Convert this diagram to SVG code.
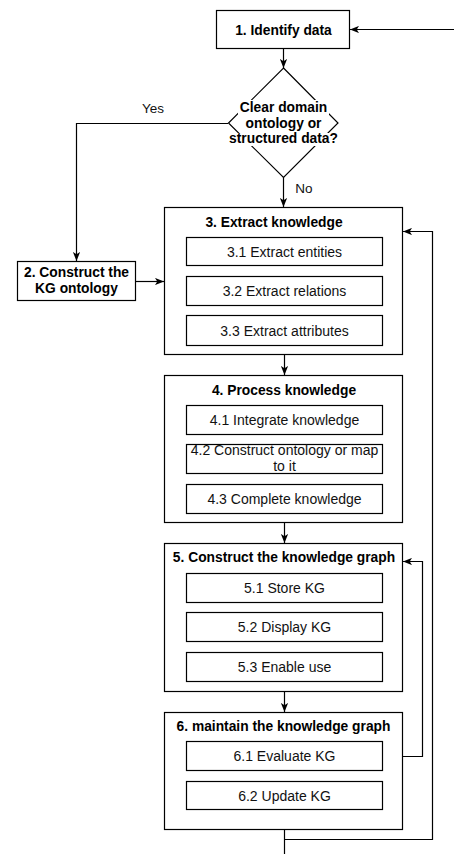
<svg xmlns="http://www.w3.org/2000/svg" width="454" height="854" viewBox="0 0 454 854">
  <style>
    .box { fill: #ffffff; stroke: #000000; stroke-width: 1.2; }
    .edge { fill: none; stroke: #000000; stroke-width: 1.2; }
    .title { font-family: "Liberation Sans", Arial, sans-serif; font-size: 13.8px; font-weight: bold; fill: #000000; text-anchor: middle; }
    .label { font-family: "Liberation Sans", Arial, sans-serif; font-size: 14px; fill: #111111; text-anchor: middle; }
    .elabel { font-family: "Liberation Sans", Arial, sans-serif; font-size: 13.5px; fill: #111111; text-anchor: middle; }
  </style>
  <defs>
    <marker id="arrow" viewBox="0 0 10 8" refX="10" refY="4" markerWidth="9" markerHeight="7.2" markerUnits="userSpaceOnUse" orient="auto">
      <path d="M0,0 L10,4 L0,8 L2.5,4 z" fill="#000000"/>
    </marker>
  </defs>
  <rect width="454" height="854" fill="#ffffff"/>

  <!-- connectors -->
  <g id="connectors">
    <path class="edge" d="M454,29.5 H350" marker-end="url(#arrow)"/>
    <path class="edge" d="M283.5,49 V68" marker-end="url(#arrow)"/>
    <path class="edge" d="M228,123.5 H76.5 V261" marker-end="url(#arrow)"/>
    <path class="edge" d="M283.5,177 V207" marker-end="url(#arrow)"/>
    <path class="edge" d="M135,281.5 H164" marker-end="url(#arrow)"/>
    <path class="edge" d="M284.5,355 V375" marker-end="url(#arrow)"/>
    <path class="edge" d="M284.5,523 V543" marker-end="url(#arrow)"/>
    <path class="edge" d="M284.5,692 V712" marker-end="url(#arrow)"/>
    <path class="edge" d="M383,756.5 H422.5 V561.5 H403" marker-end="url(#arrow)"/>
    <path class="edge" d="M284.5,810 V854"/>
    <path class="edge" d="M284.5,839.5 H432.5 V231.5 H403" marker-end="url(#arrow)"/>
    <text class="elabel" x="153" y="113">Yes</text>
    <text class="elabel" x="304" y="193">No</text>
  </g>

  <!-- 1. Identify data -->
  <g id="node-identify">
    <rect class="box" x="216.5" y="10.5" width="133" height="38"/>
    <text class="title" x="283.5" y="34.5">1. Identify data</text>
  </g>

  <!-- decision -->
  <g id="node-decision">
    <polygon class="box" points="283.5,68 338,123 283.5,177.5 228.5,123"/>
    <rect x="238" y="100" width="91" height="16" fill="#ffffff"/>
    <rect x="243" y="116" width="81" height="17" fill="#ffffff"/>
    <rect x="228" y="133" width="114" height="13" fill="#ffffff"/>
    <text class="title" x="283.5" y="112">Clear domain</text>
    <text class="title" x="283.5" y="127.5">ontology or</text>
    <text class="title" x="283.5" y="143">structured data?</text>
  </g>

  <!-- 2. Construct the KG ontology -->
  <g id="node-ontology">
    <rect class="box" x="17.5" y="261.5" width="118" height="39"/>
    <text class="title" x="76.5" y="277">2. Construct the</text>
    <text class="title" x="76.5" y="293">KG ontology</text>
  </g>

  <!-- 3. Extract knowledge -->
  <g id="node-extract">
    <rect class="box" x="164.5" y="207.5" width="238" height="147"/>
    <text class="title" x="274" y="227">3. Extract knowledge</text>
    <rect class="box" x="186.5" y="237.5" width="196" height="28"/>
    <text class="label" x="284.5" y="256.5">3.1 Extract entities</text>
    <rect class="box" x="186.5" y="276.5" width="196" height="29"/>
    <text class="label" x="284.5" y="296">3.2 Extract relations</text>
    <rect class="box" x="186.5" y="315.5" width="196" height="30"/>
    <text class="label" x="284.5" y="335.5">3.3 Extract attributes</text>
  </g>

  <!-- 4. Process knowledge -->
  <g id="node-process">
    <rect class="box" x="164.5" y="375.5" width="238" height="147"/>
    <text class="title" x="284" y="394.5">4. Process knowledge</text>
    <rect class="box" x="186.5" y="405.5" width="196" height="29"/>
    <text class="label" x="284.5" y="425">4.1 Integrate knowledge</text>
    <rect class="box" x="186.5" y="444.5" width="196" height="29"/>
    <text class="label" x="284.5" y="455">4.2 Construct ontology or map</text>
    <text class="label" x="284.5" y="471">to it</text>
    <rect class="box" x="186.5" y="484.5" width="196" height="29"/>
    <text class="label" x="284.5" y="504">4.3 Complete knowledge</text>
  </g>

  <!-- 5. Construct the knowledge graph -->
  <g id="node-construct">
    <rect class="box" x="164.5" y="543.5" width="238" height="148"/>
    <text class="title" x="284" y="562">5. Construct the knowledge graph</text>
    <rect class="box" x="186.5" y="573.5" width="196" height="29"/>
    <text class="label" x="284.5" y="593">5.1 Store KG</text>
    <rect class="box" x="186.5" y="612.5" width="196" height="29"/>
    <text class="label" x="284.5" y="632">5.2 Display KG</text>
    <rect class="box" x="186.5" y="652.5" width="196" height="29"/>
    <text class="label" x="284.5" y="672">5.3 Enable use</text>
  </g>

  <!-- 6. maintain the knowledge graph -->
  <g id="node-maintain">
    <rect class="box" x="164.5" y="712.5" width="238" height="117"/>
    <text class="title" x="283.5" y="730.5">6. maintain the knowledge graph</text>
    <rect class="box" x="186.5" y="741.5" width="196" height="29"/>
    <text class="label" x="284.5" y="761">6.1 Evaluate KG</text>
    <rect class="box" x="186.5" y="781.5" width="196" height="28"/>
    <text class="label" x="284.5" y="800.5">6.2 Update KG</text>
  </g>
</svg>
